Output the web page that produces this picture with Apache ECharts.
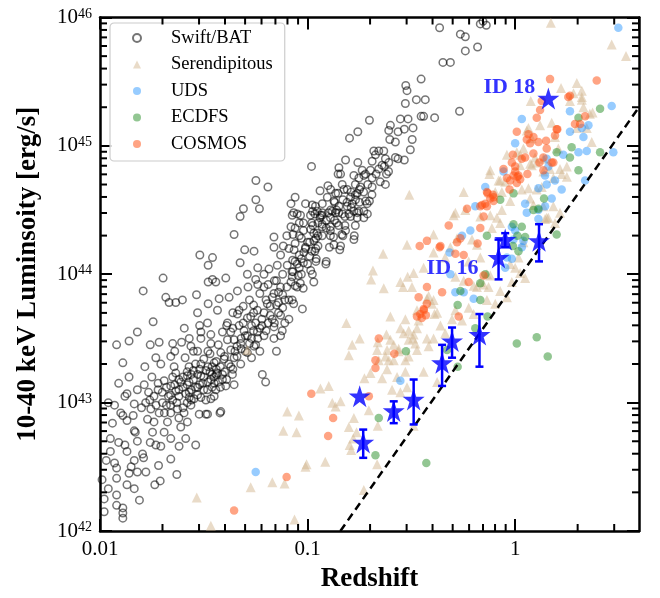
<!DOCTYPE html>
<html lang="en">
<head>
<meta charset="UTF-8">
<title>Redshift vs 10-40 keV luminosity</title>
<script src="https://cdn.jsdelivr.net/npm/echarts@6/dist/echarts.min.js"></script>
<style>
  html, body { margin: 0; padding: 0; background: #fff; }
  #chart { width: 660px; height: 598px; }
</style>
</head>
<body>
<div id="chart"></div>
<script>
// every point below is [log10 redshift, log10 L(10-40 keV) in erg/s]
const swiftBat = [
  [-1.99,42.40],[-1.98,42.25],[-1.97,42.55],[-1.96,42.33],[-1.95,42.62],[-1.94,42.84],[-1.93,42.53],[-1.92,42.49],[-1.92,42.41],[-1.92,42.28],
  [-1.92,42.20],[-1.92,43.45],[-1.96,43.00],[-1.91,42.69],[-1.90,42.92],[-1.89,43.31],[-1.89,42.90],[-1.88,42.67],[-1.89,42.18],[-1.89,42.14],
  [-1.89,42.10],[-1.98,42.15],[-1.95,42.72],[-1.93,42.98],[-1.91,43.15],
  [-1.87,43.07],[-1.86,43.20],[-1.87,42.86],[-1.87,42.36],[-1.835,42.99],[-1.835,42.78],[-1.835,42.55],[-1.835,42.33],[-1.82,43.10],[-1.82,42.46],
  [-1.81,42.24],[-1.80,42.96],[-1.83,42.77],[-1.86,43.48],[-1.82,43.55],[-1.87,42.62],[-1.85,42.50],[-1.84,42.90],[-1.88,43.05],[-1.82,42.70],[-1.86,42.45],
  [-1.792,43.87],[-1.784,43.28],[-1.787,43.14],[-1.795,42.60],[-1.79,42.57],[-1.779,42.46],[-1.771,42.87],[-1.766,43.08],[-1.758,43.45],[-1.758,42.69],
  [-1.755,42.95],[-1.747,42.77],[-1.744,43.63],[-1.736,42.36],[-1.731,42.67],[-1.731,43.35],[-1.718,42.51],[-1.715,43.47],[-1.715,42.92],[-1.710,42.39],
  [-1.707,43.30],[-1.707,42.66],[-1.699,43.00],[-1.696,43.97],[-1.76,43.02],[-1.74,42.85],[-1.72,43.15],[-1.78,43.00],[-1.75,43.20],[-1.73,42.98],
  [-1.691,43.17],[-1.691,42.77],[-1.683,43.82],[-1.675,42.85],[-1.667,43.78],[-1.659,43.36],[-1.659,43.13],[-1.659,42.92],[-1.659,42.72],[-1.659,42.56],
  [-1.650,43.46],[-1.650,43.02],[-1.643,43.28],[-1.635,43.78],[-1.635,43.23],[-1.635,43.09],[-1.630,42.44],[-1.627,42.95],[-1.619,42.66],[-1.611,43.16],
  [-1.611,42.81],[-1.607,43.47],[-1.603,43.80],[-1.67,43.05],[-1.64,43.40],[-1.62,43.05],[-1.68,42.98],[-1.65,43.20],[-1.62,42.88],
  [-1.595,42.92],[-1.594,43.58],[-1.587,43.07],[-1.587,42.72],[-1.579,43.21],[-1.579,42.85],[-1.571,43.28],[-1.571,43.16],[-1.562,43.44],[-1.562,42.98],
  [-1.547,43.03],[-1.539,42.67],[-1.535,43.84],[-1.530,43.70],[-1.530,43.12],[-1.522,42.91],[-1.519,44.15],[-1.514,43.55],[-1.514,43.50],[-1.514,43.30],
  [-1.514,43.21],[-1.514,43.04],[-1.59,43.35],[-1.56,43.10],[-1.55,43.25],[-1.58,43.00],[-1.53,43.40],[-1.505,43.15],[-1.55,43.40],[-1.52,43.60],[-1.57,43.50],
  [-1.479,44.07],[-1.479,43.94],[-1.479,43.77],[-1.482,43.62],[-1.482,43.10],[-1.482,42.91],[-1.466,43.53],[-1.466,43.46],[-1.466,43.18],[-1.466,43.03],
  [-1.458,44.13],[-1.458,43.96],[-1.450,43.31],[-1.442,43.94],[-1.442,43.10],[-1.434,43.72],[-1.434,43.23],[-1.426,43.81],[-1.422,42.92],[-1.418,43.39],
  [-1.410,43.18],[-1.402,43.34],[-1.49,43.25],[-1.47,43.38],[-1.45,43.15],[-1.44,43.22],[-1.43,43.45],[-1.48,43.40],[-1.46,43.28],[-1.42,43.28],
  [-1.45,43.05],[-1.41,43.55],[-1.418,42.93],[-1.49,42.91],
  [-1.394,43.97],[-1.394,43.13],[-1.386,43.62],[-1.386,43.49],[-1.378,43.82],[-1.370,43.41],[-1.370,43.28],[-1.362,43.22],[-1.354,43.49],[-1.354,43.35],
  [-1.354,43.14],[-1.354,44.31],[-1.338,43.87],[-1.338,43.69],[-1.325,44.45],[-1.325,44.09],[-1.322,43.46],[-1.322,43.30],[-1.309,44.51],[-1.306,43.56],
  [-1.303,44.19],[-1.39,43.60],[-1.36,43.70],[-1.33,43.60],[-1.37,43.55],[-1.31,43.75],[-1.35,43.40],[-1.32,43.50],
  [-1.290,43.52],[-1.29,43.39],[-1.287,43.90],[-1.274,43.67],[-1.258,44.18],[-1.258,43.44],[-1.250,43.96],[-1.249,44.73],[-1.249,44.58],[-1.242,43.72],
  [-1.242,43.55],[-1.232,44.51],[-1.218,43.22],[-1.210,44.00],[-1.210,43.52],[-1.202,43.16],[-1.194,43.77],[-1.28,43.80],[-1.26,43.70],[-1.23,43.85],
  [-1.27,43.60],[-1.22,43.65],[-1.25,43.45],[-1.21,43.90],[-1.24,44.05],[-1.29,44.00],[-1.27,43.35],[-1.23,43.40],
  [-1.191,44.68],[-1.186,44.04],[-1.162,44.29],[-1.162,44.21],[-1.162,43.85],[-1.162,43.59],[-1.162,43.50],[-1.146,44.07],[-1.130,43.90],[-1.130,43.52],
  [-1.122,43.56],[-1.117,44.22],[-1.098,44.07],[-1.18,43.75],[-1.15,43.95],[-1.14,43.70],[-1.12,44.00],[-1.17,43.65],[-1.11,43.80],[-1.19,43.92],
  [-1.13,44.15],[-1.10,44.30],[-1.15,43.40],[-1.11,43.62],
  [-1.074,44.46],[-1.074,43.98],[-1.074,43.80],[-1.08,44.37],[-1.067,43.77],[-1.050,44.47],[-1.025,43.73],[-1.021,43.89],[-1.018,44.17],[-1.09,44.20],
  [-1.06,44.10],[-1.04,44.30],[-1.03,44.00],[-1.08,44.55],[-1.05,43.90],[-1.02,44.40],[-1.06,44.60],[-1.01,44.55],[-1.09,43.65],[-1.04,44.15],[-1.00,44.25],
  [-0.986,44.46],[-0.981,44.84],[-0.977,44.54],[-0.977,44.00],[-0.970,43.94],[-0.965,44.47],[-0.962,44.53],[-0.953,44.49],[-0.929,44.55],[-0.929,44.48],
  [-0.905,44.60],[-0.902,44.69],[-0.95,44.30],[-0.96,44.20],[-0.93,44.37],[-0.96,44.10],[-0.91,44.10],[-0.99,44.25],[-0.94,44.65],[-0.975,44.38],
  [-0.889,44.66],[-0.889,44.50],[-0.881,44.49],[-0.873,44.57],[-0.873,44.23],[-0.865,44.63],[-0.853,44.78],[-0.853,44.63],[-0.849,44.83],[-0.849,44.53],
  [-0.841,44.78],[-0.841,44.22],[-0.833,44.70],[-0.825,44.66],[-0.817,44.89],[-0.817,44.34],[-0.809,44.66],[-0.809,44.53],[-0.801,44.47],[-0.798,45.06],
  [-0.86,44.40],[-0.83,44.30],[-0.89,44.37],[-0.82,44.45],
  [-0.793,44.60],[-0.785,44.55],[-0.777,44.77],[-0.777,44.49],[-0.777,44.27],[-0.769,44.58],[-0.761,44.63],[-0.761,44.44],[-0.758,45.11],[-0.758,44.87],
  [-0.753,44.75],[-0.753,44.49],[-0.745,44.68],[-0.737,44.81],[-0.729,44.77],[-0.729,44.49],[-0.729,44.44],[-0.721,44.78],[-0.721,44.57],[-0.713,44.55],
  [-0.712,44.47],[-0.702,45.20],[-0.702,44.57],[-0.77,44.38],
  [-0.697,44.81],[-0.689,44.88],[-0.689,44.75],[-0.689,44.68],[-0.681,44.96],[-0.673,44.93],[-0.657,44.96],[-0.657,44.82],[-0.641,44.85],[-0.633,44.96],
  [-0.625,44.90],[-0.625,44.70],[-0.609,45.12],[-0.609,44.87],[-0.604,45.05],[-0.601,45.16],[-0.62,44.78],
  [-0.577,45.03],[-0.577,44.91],[-0.564,45.11],[-0.564,44.90],[-0.553,45.21],[-0.534,45.13],[-0.534,44.89],[-0.529,45.33],[-0.527,45.47],[-0.521,45.43],
  [-0.516,45.21],[-0.505,44.97],[-0.496,45.05],[-0.492,45.14],
  [-0.476,45.36],[-0.453,45.52],[-0.453,45.23],[-0.441,45.23],[-0.433,45.36],[-0.388,45.22],[-0.364,45.92],[-0.348,45.65],[-0.312,45.65],[-0.268,45.27],
  [-0.264,45.87],[-0.240,45.85],[-0.240,45.74],[-0.181,45.77],[-0.168,45.95],[-0.155,45.97],[-0.139,45.94],
  [-1.60,43.12],[-1.57,43.08],[-1.55,43.18],[-1.53,43.22],[-1.52,43.14],[-1.50,43.20],[-1.48,43.16],[-1.47,43.24],[-1.45,43.20],[-1.43,43.16],
  [-1.41,43.22],[-1.39,43.18],[-1.58,43.24],[-1.54,43.30],[-1.50,43.34],[-1.46,43.12],[-1.44,43.32],[-1.40,43.36],[-1.56,43.02],[-1.62,43.18],
  [-1.36,43.58],[-1.34,43.44],[-1.31,43.62],[-1.29,43.66],[-1.27,43.50],[-1.25,43.62],[-1.23,43.58],[-1.21,43.70],[-1.19,43.62],[-1.17,43.82],
  [-1.15,43.76],[-1.13,43.68],[-1.26,43.76],[-1.24,43.92],[-1.20,43.80],[-1.16,43.95],[-1.14,43.86],[-1.12,43.74],[-1.30,43.40],[-1.33,43.72],
  [-1.07,44.02],[-1.05,44.08],[-1.03,44.12],[-1.01,44.20],[-0.99,44.14],[-0.97,44.26],[-0.95,44.22],[-0.93,44.30],[-0.91,44.36],[-0.89,44.30],
  [-0.87,44.42],[-0.85,44.38],[-1.06,44.24],[-1.02,44.34],[-0.98,44.40],[-0.94,44.44],[-0.90,44.48],[-0.86,44.50],[-1.08,43.94],[-1.04,44.40],
  [-0.79,44.52],[-0.77,44.62],[-0.75,44.56],[-0.73,44.64],[-0.71,44.70],[-0.69,44.62],[-0.67,44.78],[-0.65,44.72],[-0.63,44.84],[-0.61,44.80],
  [-1.067,44.48],[-1.034,44.46],[-0.976,44.49],[-0.938,44.46],[-0.865,44.48],[-0.832,44.47],[-0.793,44.45],[-0.76,44.48],
  [-1.06,44.36],[-0.985,44.35],[-0.93,44.39],[-0.89,44.34],[-0.82,44.38],
  [-1.07,44.31],[-1.03,44.28],[-0.955,44.32],[-0.875,44.29],[-0.835,44.31],[-0.775,44.30],
  [-1.065,44.19],[-1.01,44.21],[-0.965,44.18],[-0.895,44.21],[-0.845,44.19],
  [-1.072,44.11],[-1.02,44.09],[-0.958,44.12],[-0.912,44.08],
  [-1.075,44.02],[-1.045,43.99],[-0.985,44.03],[-1.06,43.91],[-1.035,43.93],
  [-1.74,43.05],[-1.72,43.10],[-1.70,43.08],[-1.68,43.12],[-1.66,43.06],[-1.64,43.14],[-1.62,43.10],[-1.60,43.20],[-1.58,43.14],[-1.56,43.22],
  [-1.54,43.12],[-1.52,43.26],[-1.50,43.10],[-1.48,43.28],[-1.46,43.22],[-1.44,43.26],[-1.42,43.12],[-1.40,43.24],[-1.38,43.30],[-1.36,43.26],
  [-1.69,42.92],[-1.66,42.98],[-1.63,43.00],[-1.60,42.96],[-1.57,43.04],[-1.53,43.06],[-1.49,43.02],
  [-1.34,43.36],[-1.32,43.42],[-1.30,43.52],[-1.28,43.46],[-1.26,43.56],[-1.24,43.50],[-1.22,43.60],[-1.20,43.56],[-1.18,43.68],[-1.16,43.62],
  [-1.14,43.78],[-1.12,43.84],[-1.10,43.90],[-1.09,43.80],
  [-0.97,44.32],[-0.95,44.40],[-0.93,44.46],[-0.91,44.42],[-0.89,44.44],[-0.87,44.56],[-0.85,44.48],[-0.83,44.58],[-0.81,44.56],[-0.79,44.64],
  [-0.77,44.70],[-0.75,44.66],[-1.00,44.08],[-0.98,44.18],[-0.96,44.28],[-1.04,44.05]
];

const serendipitous = [
  [-1.098,42.93],[-1.042,42.90],[-1.117,42.78],[-1.053,42.77],[-1.274,42.34],[-1.17,42.38],[-1.111,42.37],[-1.534,42.26],[-1.466,42.04],[-1.063,42.09],
  [-1.29,43.41],[-1.005,42.52],[-1.01,42.50],[-0.915,42.54],[-0.938,43.11],[-0.898,43.13],[-0.881,43.00],[-0.841,43.01],[-0.865,42.97],[-0.777,42.88],
  [-0.801,42.81],[-0.764,42.77],[-0.780,42.72],[-0.797,42.67],[-0.790,42.63],[-0.705,42.94],[-0.662,42.82],[-0.665,42.52],[-0.729,42.32],[-0.641,43.19],
  [-0.593,43.10],[-0.553,43.08],[-0.569,43.20],[-0.529,43.24],[-0.441,43.24],[-0.521,43.12],[-0.376,43.16],[-0.489,42.82],
  [-0.288,44.48],[-0.393,44.31],[-0.521,44.23],[-0.636,44.16],[-0.694,43.96],[-0.633,43.89],[-0.54,43.90],[-0.518,43.98],[-0.489,44.01],[-0.441,44.05],
  [-0.393,44.17],[-0.417,43.83],[-0.393,43.80],[-0.401,43.77],[-0.425,43.81],[-0.376,43.70],[-0.389,43.69],[-0.473,43.72],[-0.465,43.64],[-0.529,43.65],
  [-0.553,43.58],[-0.513,43.56],[-0.473,43.58],[-0.492,43.50],[-0.620,43.53],[-0.601,43.49],[-0.665,43.41],[-0.617,43.41],[-0.657,43.33],[-0.609,43.33],
  [-0.561,43.42],[-0.529,43.33],[-0.513,43.36],[-0.481,43.46],[-0.473,43.41],[-0.425,43.50],[-0.417,43.44],[-0.617,43.26],[-0.697,43.23],[-0.726,43.19],
  [-0.801,43.37],[-0.813,43.62],[-0.749,43.50],[-0.785,43.45],[-0.662,43.47],[-0.601,43.67],[-0.685,44.03],
  [-0.248,44.64],[-0.12,44.81],[-0.08,44.73],[-0.048,44.72],[0.008,44.95],[0.064,45.14],[0.12,45.16],[0.192,45.07],[0.264,45.35],[0.321,45.38],
  [0.36,45.25],[0.373,45.26],[0.345,45.14],[0.369,45.03],[0.297,45.14],[0.216,44.82],[0.249,44.84],[0.184,44.75],[0.128,44.68],[0.104,44.66],
  [0.064,44.67],[0.032,44.66],[0.072,44.59],[-0.024,44.57],[-0.064,44.50],[-0.096,44.64],[-0.064,44.64],
  [-0.112,44.36],[-0.168,44.45],[-0.208,44.27],[-0.184,44.23],[-0.168,44.13],[-0.224,44.10],[0.144,44.43],[0.16,44.44],[0.088,44.54],[0.136,44.53],
  [0.192,44.40],[0.04,44.25],[0.016,44.13],[-0.024,44.08],[-0.136,44.00],[-0.168,43.94],[-0.2,43.91],[-0.128,43.90],[-0.312,44.21],[-0.28,44.28],
  [-0.337,44.13],[0.072,44.86],[0.096,44.91],[0.024,44.85],[-0.04,44.93],[0.136,44.80],[0.168,44.82],
  [0.172,45.96],[0.465,45.79],[0.534,45.70],[0.221,45.45],[0.297,45.49],[0.321,45.43],[0.281,45.41],[0.321,45.36],[0.075,45.35],[0.329,45.30],
  [0.176,45.18],[0.056,45.12],[0.08,45.06],[0.208,44.98],[0.04,44.98],[0.024,44.93],[0.136,44.90],[0.104,44.87],[0.08,44.85],[-0.124,44.78],
  [-0.072,44.73],[-0.51,44.62],[0.224,44.78],[0.249,44.76],
  [0.184,44.53],[0.216,44.48],[0.152,44.44],[0,44.05],[0.024,44.01],[0.048,43.97],[-0.016,43.94],[-0.072,43.87],[-0.04,43.82],[-0.136,43.80],
  [-0.096,43.77],[-0.184,43.90],[-0.2,43.69],[-0.224,43.74],[-0.288,43.72],[-0.304,43.65],[-0.256,43.64],[-0.36,43.60],[-0.337,43.54],[-0.393,43.50],
  [-0.489,43.53],[-0.537,43.54],[-0.513,43.49],[-0.585,43.45],[-0.561,43.40],[-0.625,43.36],[-0.585,43.33],
  [-0.553,43.94],[-0.497,43.90],[-0.296,44.46],[-0.240,44.50],[-0.12,44.46],[-0.088,44.44],[-0.072,44.40],[-0.288,43.98],[-0.248,43.95],[-0.12,43.99],[-0.152,43.92]
];

const uds = [
  [0.497,45.92],[0.465,45.31],[0.473,44.95],[0.345,44.96],[0.305,44.95],[0.337,44.73],[0.264,45.27],[0.321,45.14],[0.329,45.07],[0.232,44.93],
  [0.192,44.73],[0.224,44.66],[0.152,44.90],[0.16,44.84],[0.144,44.77],[0.152,44.70],[0.112,44.67],[0.176,44.59],[0.112,44.43],[0.032,45.21],
  [0,45.02],[-0.056,44.80],[-0.144,44.68],[-0.192,44.53],[-0.256,44.30],[-0.216,44.34],[-0.312,44.00],[-0.016,44.37],[0,44.34],[-0.04,44.13],
  [-0.016,44.12],[-0.048,44.05],[0.032,44.21],[-0.008,44.27],[0.264,45.11],[0.353,45.16],[-0.316,44.17],[-0.288,43.86],[-0.248,43.86],[-0.2,43.81],
  [0.04,44.26],[0.112,44.50],[0.144,44.53],[0.056,44.48],[-0.553,43.17],[-1.25,42.46],[0.048,44.55]
];

const ecdfs = [
  [0.409,45.29],[0.305,45.22],[0.2,44.95],[0.272,44.99],[0.264,44.91],[0.409,44.95],[0.305,44.81],[-0.008,44.63],[0.139,44.59],[-0.072,44.58],
  [0.088,44.50],[0.112,44.51],[0.032,44.37],[0.011,44.30],[0.2,44.31],[-0.136,44.30],[0.016,44.18],[-0.168,43.93],[-0.008,44.39],[0.048,44.29],
  [-0.011,44.22],[-0.144,44.00],[-0.264,43.87],[-0.168,43.80],[-0.277,43.76],[-0.133,43.67],[-0.328,43.41],[0.157,43.36],[0.104,43.51],[0.008,43.46],
  [-0.277,43.28],[-0.192,43.58],[-0.526,43.40],[-0.657,42.88],[-0.673,42.59],[-0.428,42.53]
];

const cosmos = [
  [0.168,45.52],[0.393,45.51],[0.264,45.39],[0.12,45.28],[0.104,45.22],[0.008,45.11],[0.088,45.07],[0.112,45.03],[0.149,45.04],[0.152,44.98],
  [0.2,45.13],[0.056,45.05],[0.072,45.02],[-0.011,44.93],[0.032,44.90],[0.048,44.91],[0.088,44.94],[0.136,44.91],[0.176,44.87],[0.184,44.87],
  [0,44.84],[-0.008,44.77],[0.016,44.77],[0.008,44.71],[0.059,44.78],[-0.133,44.63],[-0.107,44.62],
  [0.128,45.35],[0.064,45.09],[0.203,45.13],[0.192,45.08],[0.256,45.38],[0.288,45.17],[0.313,45.17],[0.337,45.23],[-0.016,44.87],[0.117,44.87],
  [0.136,44.81],[0,44.80],[0.011,44.76],[-0.04,44.75],[-0.024,44.73],[0.024,44.74],[-0.136,44.64],[-0.12,44.59],[-0.104,44.60],[-0.104,44.57],
  [-0.136,44.53],[-0.16,44.54],[-0.152,44.45],[-0.232,44.51],[-0.168,44.36],[-0.32,44.38],[-0.288,44.16],[-0.248,44.15],[-0.36,44.22],[-0.027,44.66],[-0.056,44.82],
  [-0.168,44.53],[-0.144,44.55],[-0.28,44.25],[-0.264,44.28],[-0.181,44.24],[-0.46,44.22],[-0.425,44.26],[-0.364,44.21],[-0.352,43.86],[-0.425,43.90],
  [-0.224,43.94],[-0.465,43.82],[-0.441,43.73],[-0.457,43.69],[-0.425,43.77],[-0.473,43.67],[-0.272,43.67],[-0.582,43.38],[-0.152,43.99],[-0.44,43.72],
  [-0.45,43.66],[-0.43,43.68],
  [-0.657,43.50],[-0.673,43.33],[-0.673,43.27],[-0.982,43.07],[-0.705,43.05],[-0.877,42.88],[-0.901,42.74],[-1.101,42.42],[-1.354,42.16]
];

// NuSTAR sources (stars): log10 z, log10 L, error bar low / high
const starLogZ  = [-0.749, -0.732, -0.585, -0.489, -0.352, -0.304, -0.172, -0.080, -0.048, 0.115, 0.160];
const starLogL  = [43.05, 42.69, 42.935, 43.025, 43.31, 43.48, 43.53, 44.13, 44.27, 44.26, 45.37];
const starLogLo = [null, 42.57, 42.84, 42.83, 43.13, 43.35, 43.28, 43.96, 44.21, 44.10, null];
const starLogHi = [null, 42.79, 43.01, 43.18, 43.45, 43.585, 43.69, 44.27, 44.32, 44.39, null];
const starIds   = ['', '', '', '', '', '', '', 'ID 16', '', '', 'ID 18'];

// dashed limit line, end points
const limitLine = [[-0.842, 42.0], [0.596, 45.30]];

const xTickLabels = ['0.01', '0.1', '1'];
const xMinorTicks = [0.02,0.03,0.04,0.05,0.06,0.07,0.08,0.09,0.2,0.3,0.4,0.5,0.6,0.7,0.8,0.9,2,3];
const yMinorTicks = [2e42,3e42,4e42,5e42,6e42,7e42,8e42,9e42,2e43,3e43,4e43,5e43,6e43,7e43,8e43,9e43,
                     2e44,3e44,4e44,5e44,6e44,7e44,8e44,9e44,2e45,3e45,4e45,5e45,6e45,7e45,8e45,9e45];

const SERIF = 'Liberation Serif';
const toXY = arr => arr.map(d => [Math.pow(10, d[0]), Math.pow(10, d[1])]);

function minorTicks(values, dir) {
  return {
    type: 'custom',
    silent: true,
    clip: false,
    z: 20,
    data: values.map(v => dir === 'x' ? [v, 1e44] : [0.1, v]),
    renderItem: function (params, api) {
      const cs = params.coordSys;
      const p = api.coord([api.value(0), api.value(1)]);
      const len = 7;
      const style = { stroke: '#000', lineWidth: 2 };
      if (dir === 'x') {
        return { type: 'group', children: [
          { type: 'line', shape: { x1: p[0], y1: cs.y + cs.height, x2: p[0], y2: cs.y + cs.height - len }, style: style },
          { type: 'line', shape: { x1: p[0], y1: cs.y, x2: p[0], y2: cs.y + len }, style: style }
        ] };
      }
      return { type: 'group', children: [
        { type: 'line', shape: { x1: cs.x, y1: p[1], x2: cs.x + len, y2: p[1] }, style: style },
        { type: 'line', shape: { x1: cs.x + cs.width, y1: p[1], x2: cs.x + cs.width - len, y2: p[1] }, style: style }
      ] };
    }
  };
}

const errData = [];
starLogZ.forEach((z, i) => {
  if (starLogLo[i] !== null) errData.push([Math.pow(10, z), Math.pow(10, starLogLo[i]), Math.pow(10, starLogHi[i])]);
});

const labelPlace = {
  'ID 16': { distance: 9, offset: [0, 11] },
  'ID 18': { distance: 2, offset: [0, -11] }
};
const starData = starLogZ.map((z, i) => {
  const item = { value: [Math.pow(10, z), Math.pow(10, starLogL[i])] };
  if (starIds[i]) {
    item.label = Object.assign({
      show: true, formatter: starIds[i], position: 'left',
      color: '#0000ff', fontFamily: SERIF, fontWeight: 'bold', fontSize: 22
    }, labelPlace[starIds[i]]);
  }
  return item;
});

const starPath = 'path://M50,0 L61.2,34.5 L97.6,34.5 L68.2,55.9 L79.4,90.5 L50,69.1 L20.6,90.5 L31.8,55.9 L2.4,34.5 L38.8,34.5 Z';

const axisCommon = {
  type: 'log',
  logBase: 10,
  axisLine: { show: true, onZero: false, lineStyle: { color: '#000', width: 2.5 } },
  axisTick: { show: true, inside: true, length: 12, lineStyle: { color: '#000', width: 2 } },
  splitLine: { show: false },
  minorTick: { show: false }
};

const chart = echarts.init(document.getElementById('chart'), null, { renderer: 'canvas' });
chart.setOption({
  animation: false,
  backgroundColor: '#fff',
  grid: { left: 100, right: 21, top: 14, bottom: 65 },
  legend: {
    data: ['Swift/BAT', 'Serendipitous', 'UDS', 'ECDFS', 'COSMOS'],
    orient: 'vertical',
    left: 110, top: 23,
    padding: [5, 12, 7, 22],
    itemWidth: 8, itemHeight: 8, itemGap: 6.5,
    backgroundColor: 'rgba(255,255,255,0.85)',
    borderColor: '#cccccc', borderWidth: 1.2, borderRadius: 4,
    textStyle: { fontFamily: SERIF, fontSize: 18.5, color: '#000', lineHeight: 20, padding: [0, 0, 0, 25] }
  },
  xAxis: [
    Object.assign({}, axisCommon, {
      min: 0.01, max: 3.95, position: 'bottom',
      name: 'Redshift', nameLocation: 'middle', nameGap: 35,
      nameTextStyle: { fontFamily: SERIF, fontWeight: 'bold', fontSize: 27, color: '#000' },
      axisLabel: {
        show: true, margin: 8, color: '#000', fontFamily: SERIF, fontSize: 21,
        showMaxLabel: false,
        formatter: v => {
          const e = Math.log10(v);
          if (Math.abs(e - Math.round(e)) > 1e-6) return '';
          return xTickLabels[Math.round(e) + 2] || '';
        }
      }
    }),
    Object.assign({}, axisCommon, { min: 0.01, max: 3.95, position: 'top', axisLabel: { show: false } })
  ],
  yAxis: [
    Object.assign({}, axisCommon, {
      min: 1e42, max: 1e46, position: 'left',
      name: '10-40 keV Luminsoity [erg/s]', nameLocation: 'middle', nameGap: 58,
      nameTextStyle: { fontFamily: SERIF, fontWeight: 'bold', fontSize: 27, color: '#000' },
      axisLabel: {
        show: true, margin: 8, color: '#000',
        formatter: v => {
          const e = Math.round(Math.log10(v));
          if (Math.abs(v / Math.pow(10, e) - 1) > 1e-6) return '';
          return '{b|10}{s|' + e + '}';
        },
        rich: {
          b: { fontFamily: SERIF, fontSize: 21, color: '#000', lineHeight: 21, padding: [7, 0, 0, 0], verticalAlign: 'bottom' },
          s: { fontFamily: SERIF, fontSize: 14, color: '#000', lineHeight: 14, verticalAlign: 'top' }
        }
      }
    }),
    Object.assign({}, axisCommon, { min: 1e42, max: 1e46, position: 'right', axisLabel: { show: false } })
  ],
  series: [
    {
      name: 'Swift/BAT', type: 'scatter', symbol: 'circle', symbolSize: 7.5, z: 2,
      itemStyle: { color: 'rgba(0,0,0,0)', borderColor: 'rgba(0,0,0,0.68)', borderWidth: 1.5 },
      data: toXY(swiftBat)
    },
    {
      name: 'Serendipitous', type: 'scatter', symbol: 'triangle', symbolSize: 10, z: 3,
      itemStyle: { color: 'rgba(210,180,140,0.6)' },
      data: toXY(serendipitous)
    },
    {
      name: 'UDS', type: 'scatter', symbol: 'circle', symbolSize: 8.5, z: 4,
      itemStyle: { color: 'rgba(30,144,255,0.58)' },
      data: toXY(uds)
    },
    {
      name: 'ECDFS', type: 'scatter', symbol: 'circle', symbolSize: 8.5, z: 5,
      itemStyle: { color: 'rgba(34,139,34,0.62)' },
      data: toXY(ecdfs)
    },
    {
      name: 'COSMOS', type: 'scatter', symbol: 'circle', symbolSize: 8.5, z: 6,
      itemStyle: { color: 'rgba(255,80,20,0.65)' },
      data: toXY(cosmos)
    },
    {
      type: 'line', silent: true, z: 7, symbol: 'none', clip: true,
      lineStyle: { color: '#000', width: 2.5, type: [8, 5] },
      data: toXY(limitLine)
    },
    {
      type: 'custom', silent: true, z: 8,
      encode: { x: 0, y: [1, 2] },
      data: errData,
      renderItem: function (params, api) {
        const lo = api.coord([api.value(0), api.value(1)]);
        const hi = api.coord([api.value(0), api.value(2)]);
        const w = 4;
        const style = { stroke: '#0000ff', lineWidth: 2.5 };
        return { type: 'group', children: [
          { type: 'line', shape: { x1: lo[0], y1: lo[1], x2: hi[0], y2: hi[1] }, style: style },
          { type: 'line', shape: { x1: lo[0] - w, y1: lo[1], x2: lo[0] + w, y2: lo[1] }, style: style },
          { type: 'line', shape: { x1: hi[0] - w, y1: hi[1], x2: hi[0] + w, y2: hi[1] }, style: style }
        ] };
      }
    },
    {
      type: 'scatter', symbol: starPath, symbolSize: 22, z: 9, silent: true,
      itemStyle: { color: '#0000ff' },
      data: starData
    },
    minorTicks(xMinorTicks, 'x'),
    minorTicks(yMinorTicks, 'y')
  ]
});
</script>
</body>
</html>
